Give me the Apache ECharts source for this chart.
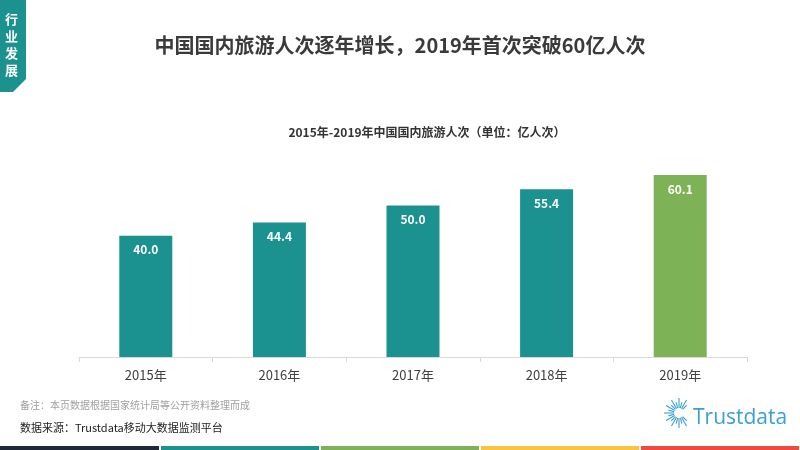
<!DOCTYPE html>
<html>
<head>
<meta charset="utf-8">
<script src="https://cdn.jsdelivr.net/npm/echarts@6/dist/echarts.min.js"></script>
<style>
html,body{margin:0;padding:0;background:#fff;}
#main{width:800px;height:450px;}
</style>
</head>
<body>
<div id="main"></div>
<script>
var categories = ['2015年', '2016年', '2017年', '2018年', '2019年'];
var visitors = [40.0, 44.4, 50.0, 55.4, 60.1];
var barColors = ['#1b928f', '#1b928f', '#1b928f', '#1b928f', '#7db356'];
var titleText = '中国国内旅游人次逐年增长，2019年首次突破60亿人次';
var subTitleText = '2015年-2019年中国国内旅游人次（单位：亿人次）';
var noteText = '备注：本页数据根据国家统计局等公开资料整理而成';
var sourceText = '数据来源：Trustdata移动大数据监测平台';
var stripeColors = ['#1e2a38', '#1b928f', '#7db356', '#f9c444', '#ee4b3e'];

var FONT = '"Noto Sans CJK SC", "Microsoft YaHei", sans-serif';
var chart = echarts.init(document.getElementById('main'));

var graphics = [];
// left tag
graphics.push({
  type: 'polygon',
  shape: { points: [[0, 0], [26, 0], [26, 79], [13, 92], [0, 92]] },
  style: { fill: '#1b928f' }
});
graphics.push({
  type: 'text', left: 5, top: 11,
  style: { text: '行\n业\n发\n展', fill: '#fff', font: 'bold 13px ' + FONT, lineHeight: 17 }
});
// bottom stripes
for (var i = 0; i < stripeColors.length; i++) {
  graphics.push({
    type: 'rect',
    shape: { x: i * 160 + (i ? 1 : 0), y: 446, width: 159 - (i ? 1 : 0), height: 4 },
    style: { fill: stripeColors[i] }
  });
}
// notes
graphics.push({ type: 'text', left: 20, top: 400, style: { text: noteText, fill: '#a0a0a0', font: '10px ' + FONT } });
graphics.push({ type: 'text', left: 20, top: 422, style: { text: sourceText, fill: '#222', font: '11px ' + FONT } });
// logo sunburst
var cx = 679, cy = 413;
for (var k = 0; k < 24; k++) {
  var a = (k / 24) * Math.PI * 2;
  if (Math.cos(a) > 0.85) continue;
  var r1 = 5, r2 = (k % 2 === 0) ? 15 : 11;
  graphics.push({
    type: 'line',
    shape: { x1: cx + r1 * Math.cos(a), y1: cy + r1 * Math.sin(a), x2: cx + r2 * Math.cos(a), y2: cy + r2 * Math.sin(a) },
    style: { stroke: '#3a9fd6', lineWidth: 1.1 }
  });
}
graphics.push({ type: 'text', left: 693, top: 408, style: { text: 'Trustdata', fill: '#3a9fd6', font: '21px "Open Sans", sans-serif' } });

chart.setOption({
  animation: false,
  backgroundColor: '#fff',
  title: [
    { text: titleText, left: 'center', top: 30, textStyle: { fontFamily: FONT, fontSize: 20, fontWeight: 'bold', color: '#3a3a3a' } },
    { text: subTitleText, left: 422, top: 121, textAlign: 'center', textStyle: { fontFamily: FONT, fontSize: 12, fontWeight: 'bold', color: '#333' } }
  ],
  grid: { left: 79, right: 53, top: 145, bottom: 93 },
  xAxis: {
    type: 'category',
    data: categories,
    axisLine: { lineStyle: { color: '#d9d9d9' } },
    axisTick: { show: true, length: 5, lineStyle: { color: '#d9d9d9' } },
    axisLabel: { color: '#404040', fontSize: 13, fontFamily: FONT, margin: 12 }
  },
  yAxis: {
    type: 'value', min: 0, max: 70, show: false,
    splitLine: { show: false }
  },
  series: [{
    type: 'bar',
    barWidth: 53,
    data: visitors.map(function (v, i) { return { value: v, itemStyle: { color: barColors[i] } }; }),
    label: {
      show: true, position: 'insideTop', distance: 8,
      color: '#fff', fontWeight: 'bold', fontSize: 12, fontFamily: FONT,
      formatter: function (p) { return p.value.toFixed(1); }
    }
  }],
  graphic: graphics
});
</script>
</body>
</html>
